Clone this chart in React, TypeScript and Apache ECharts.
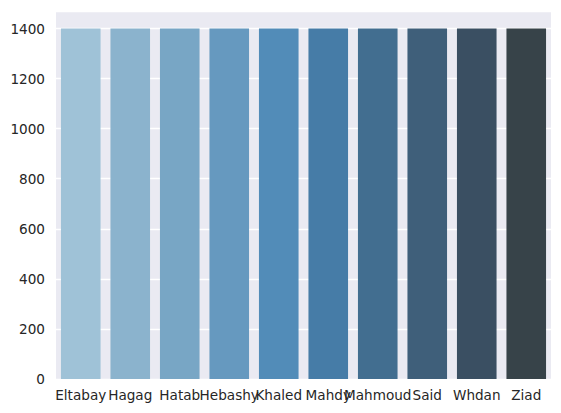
import React, { useEffect, useRef } from "react";
import * as echarts from "echarts";

const categories = ["Eltabay", "Hagag", "Hatab", "Hebashy", "Khaled", "Mahdy", "Mahmoud", "Said", "Whdan", "Ziad"];
const values = [1400, 1400, 1400, 1400, 1400, 1400, 1400, 1400, 1400, 1400];
const colors = ["#9fc2d7", "#8bb3cd", "#78a6c5", "#6699bf", "#528cb8", "#467ca7", "#426e90", "#3f5f7a", "#3a4f62", "#374349"];

export default function App() {
  const ref = useRef<HTMLDivElement>(null);
  useEffect(() => {
    const chart = echarts.init(ref.current!, null, { renderer: "svg" });
    chart.setOption({
      animation: false,
      grid: {
        left: 56,
        right: 10,
        top: 11,
        bottom: 34,
        show: true,
        backgroundColor: "#eaeaf2",
        borderWidth: 0,
      },
      xAxis: {
        type: "category",
        data: categories,
        axisLine: { show: false },
        axisTick: { show: false },
        axisLabel: {
          interval: 0,
          color: "#262626",
          fontFamily: "DejaVu Sans",
          fontSize: 13.6,
          margin: 9,
        },
        splitLine: { show: false },
      },
      yAxis: {
        type: "value",
        min: 0,
        max: 1470,
        interval: 200,
        axisLine: { show: false },
        axisTick: { show: false },
        axisLabel: {
          color: "#262626",
          fontFamily: "DejaVu Sans",
          fontSize: 13.6,
          margin: 11,
          showMaxLabel: false,
          formatter: (v: number) => (v % 200 === 0 ? String(v) : ""),
        },
        splitLine: { show: true, lineStyle: { color: "#ffffff", width: 1.3 } },
      },
      series: [
        {
          type: "bar",
          data: values.map((v, i) => ({ value: v, itemStyle: { color: colors[i] } })),
          barWidth: "80%",
        },
      ],
    });
    return () => chart.dispose();
  }, []);
  return (
    <div
      ref={ref}
      style={{ position: "fixed", left: 0, top: 0, width: 561, height: 413, background: "#ffffff" }}
    />
  );
}
